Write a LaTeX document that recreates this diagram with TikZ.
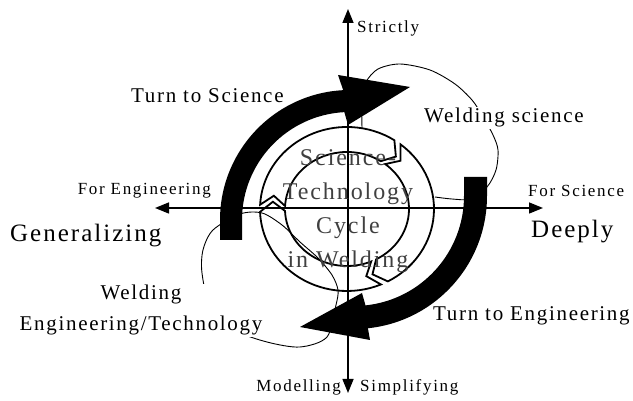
\documentclass[tikz,border=0pt]{standalone}
\usepackage{fontspec}
\setmainfont{Liberation Serif}
\newfontfamily\spaced{Liberation Serif}[LetterSpace=8]
\newfontfamily\spacedsmall{Liberation Serif}[LetterSpace=10]
\usepackage{tikz}
\usetikzlibrary{arrows.meta}

\begin{document}
\begin{tikzpicture}[x=1pt, y=1pt,
  axisarrow/.style={draw, line width=1.5pt, -{Triangle[length=14pt, width=11pt]}},
  turnband/.style={fill=black},
  ringpart/.style={draw, line width=1.8pt, line join=miter},
  outline/.style={draw, line width=0.9pt},
  sidetxt/.style={font=\spacedsmall\fontsize{17}{20}\selectfont, inner sep=0pt},
  quadtxt/.style={font=\spaced\fontsize{21}{31}\selectfont, inner sep=1pt},
  dirtxt/.style={font=\spaced\fontsize{25}{30}\selectfont, inner sep=0pt},
  cycletxt/.style={font=\spaced\fontsize{24}{34}\selectfont, text=black!75, align=center, inner sep=0pt}]

  \useasboundingbox (0,0) rectangle (633,401);

  % axes
  \coordinate (o) at (348,193);
  \coordinate (up) at (348,392);
  \coordinate (dn) at (348,8);
  \coordinate (lt) at (155,193);
  \coordinate (rt) at (543,193);
  \draw[axisarrow] (o) -- (up);
  \draw[axisarrow] (o) -- (dn);
  \draw[axisarrow] (o) -- (lt);
  \draw[axisarrow] (o) -- (rt);

  % outlines of the two fields
  \draw[outline] plot[smooth] coordinates {(435,204) (452,202) (470,202) (487,214) (496,231)
    (498,251) (493,266) (482,286) (472,301) (455,317) (430,331) (400,337) (378,332)
    (366,319) (362,301) (362,273)};
  \draw[outline] plot[smooth cycle] coordinates {(338,111) (336,96) (327,64) (300,54) (267,59)
    (235,71) (210,96) (202,128) (203,151) (213,171) (240,187) (262,188) (282,176)
    (300,159) (318,143) (332,126)};

  % inner cycle
  \begin{scope}[shift={(347,192)}]
    \foreach \a/\b in {182/57, 57/-62, -62/-178}
      \draw[ringpart] ({\a-5}:87 and 82) arc[start angle=\a-5, end angle=\b, x radius=87, y radius=82]
        -- ({\b-8}:74.5 and 69.5) -- (\b:62 and 57)
        arc[start angle=\b, end angle=\a-5, x radius=62, y radius=57]
        -- ({\a-13}:74.5 and 69.5) -- cycle;
  \end{scope}

  % turning arrows
  \begin{scope}[shift={(350,181)}]
    \fill[turnband] (-130,-20) -- (-130,0) arc[start angle=180, end angle=93, radius=130]
      -- (-12,145) -- (60,133) -- (-2,95) -- (93:108)
      arc[start angle=93, end angle=180, radius=108] -- (-108,-20) -- cycle;
  \end{scope}
  \begin{scope}[shift={(354,205)}]
    \fill[turnband] (133,19) -- (133,0) arc[start angle=0, end angle=-84, radius=133]
      -- (16,-144) -- (-54,-131) -- (8,-97) -- (-84:110)
      arc[start angle=-84, end angle=0, radius=110] -- (110,19) -- cycle;
  \end{scope}

  % texts
  \node[sidetxt, anchor=base west] (strict) at (357,368) {Strictly};
  \node[sidetxt, anchor=base east] (model) at (341,9) {Modelling};
  \node[sidetxt, anchor=base west] (simpl) at (360,9) {Simplifying};
  \node[sidetxt, anchor=base east] (foreng) at (211,206) {For Engineering};
  \node[sidetxt, anchor=base west] (forsci) at (528,204) {For Science};
  \node[dirtxt, anchor=base west] (gen) at (10,159) {Generalizing};
  \node[dirtxt, anchor=base west] (deep) at (531,163) {Deeply};
  \node[quadtxt, anchor=base west] (tosci) at (130,298) {Turn to Science};
  \node[quadtxt, anchor=base west, fill=white] (wsci) at (423,278) {Welding science};
  \node[quadtxt, anchor=base west] (toeng) at (432,80) {Turn to Engineering};
  \node[quadtxt, align=center, fill=white, anchor=base] (weng) at (141,70) {Welding\\Engineering/Technology};
  \node[cycletxt] (cycle) at (348,190) {Science-\\Technology\\Cycle\\in Welding};
\end{tikzpicture}
\end{document}
